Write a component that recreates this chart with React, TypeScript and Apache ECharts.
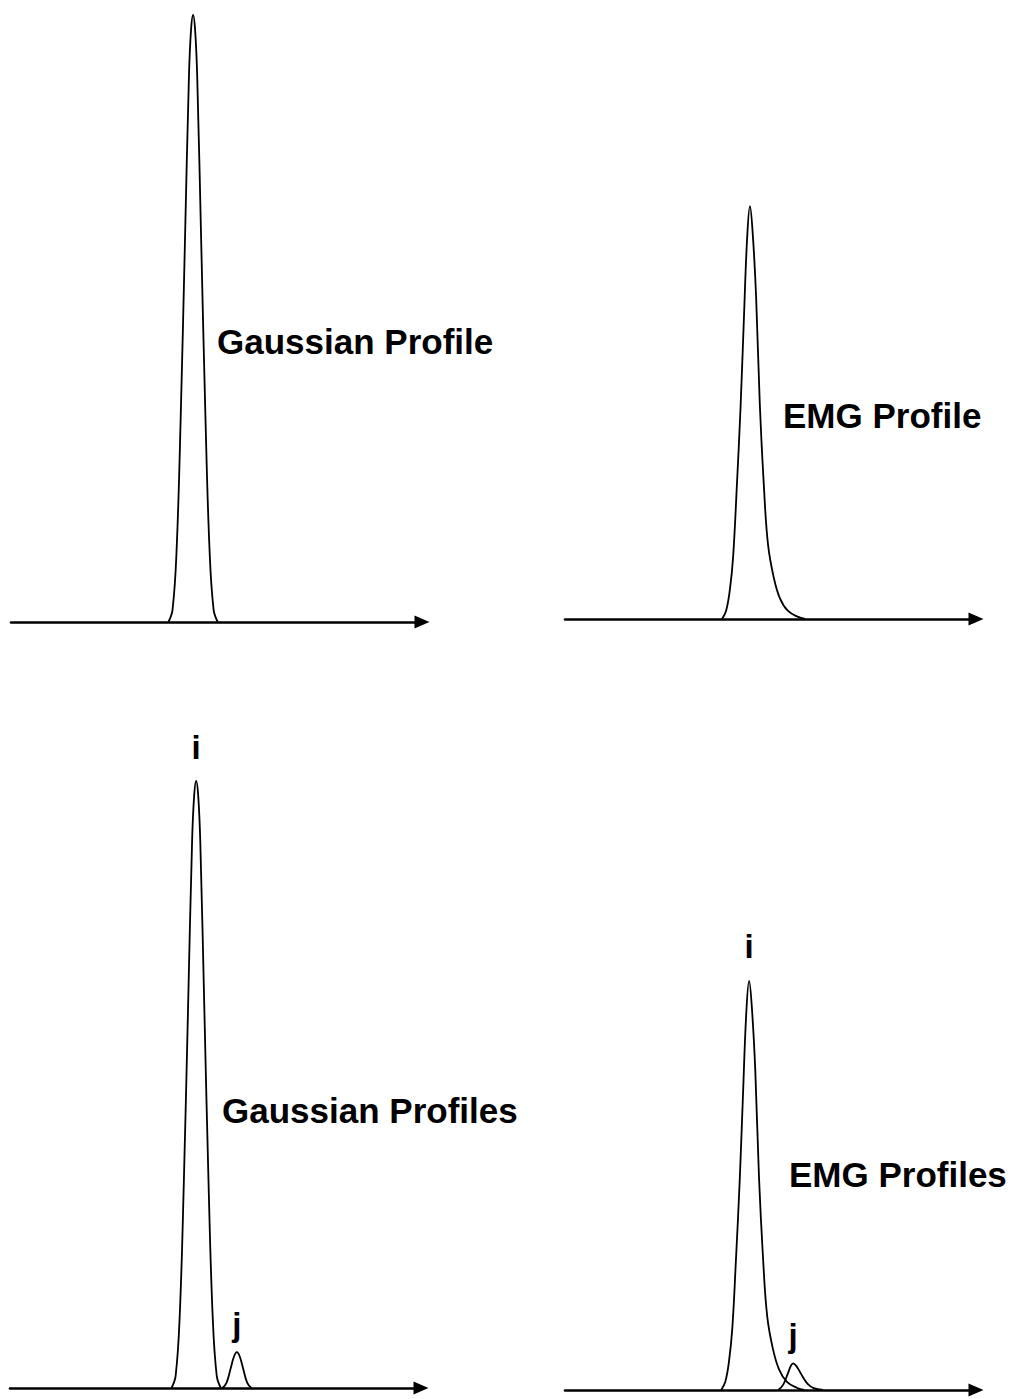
import React, { useEffect, useRef } from "react";
import * as echarts from "echarts";

// Peak shape templates: offset from peak centre (x units) and relative height
const GAUSS_OFFSETS = [-6, -5, -4, -3, -2, -1, -0.5, 0, 0.5, 1, 2, 3, 4, 5, 6];
const GAUSS_HEIGHTS = [0, 0.02, 0.12, 0.34, 0.62, 0.9, 0.975, 1, 0.975, 0.9, 0.62, 0.34, 0.12, 0.02, 0];

const SMALL_GAUSS_OFFSETS = [-3.5, -2.5, -1.5, -0.7, 0, 0.7, 1.5, 2.5, 3.5];
const SMALL_GAUSS_HEIGHTS = [0, 0.15, 0.55, 0.88, 1, 0.88, 0.55, 0.15, 0];

const EMG_OFFSETS = [-6.8, -5.8, -4.9, -4.1, -3.2, -2.3, -1.5, -0.7, 0, 0.7, 1.5, 2.4, 3.4, 4.4, 5.8, 7.3, 9.2, 11.7, 13.4];
const EMG_HEIGHTS = [0, 0.02, 0.07, 0.15, 0.32, 0.51, 0.72, 0.92, 1, 0.93, 0.78, 0.52, 0.32, 0.18, 0.1, 0.05, 0.02, 0.005, 0];

const SMALL_EMG_OFFSETS = [-3.6, -2.4, -1.2, -0.5, 0, 0.6, 1.2, 2.4, 3.6, 5, 7.3];
const SMALL_EMG_HEIGHTS = [0, 0.2, 0.65, 0.92, 1, 0.93, 0.8, 0.48, 0.22, 0.07, 0];

// Peaks per panel: centre (x units, 0-100 axis), height (intensity, 0-100), label
const PANEL_TITLES = ["Gaussian Profile", "EMG Profile", "Gaussian Profiles", "EMG Profiles"];
const PANEL1_PEAKS = [{ shape: "gauss", center: 44.3, height: 100, label: "" }];
const PANEL2_PEAKS = [{ shape: "emg", center: 45.0, height: 68, label: "" }];
const PANEL3_PEAKS = [
  { shape: "gauss", center: 45.3, height: 100, label: "i" },
  { shape: "smallGauss", center: 55.2, height: 5.9, label: "j" },
];
const PANEL4_PEAKS = [
  { shape: "emg", center: 44.8, height: 67.4, label: "i" },
  { shape: "smallEmg", center: 55.5, height: 4.4, label: "j" },
];

const SHAPES: Record<string, { off: number[]; h: number[] }> = {
  gauss: { off: GAUSS_OFFSETS, h: GAUSS_HEIGHTS },
  smallGauss: { off: SMALL_GAUSS_OFFSETS, h: SMALL_GAUSS_HEIGHTS },
  emg: { off: EMG_OFFSETS, h: EMG_HEIGHTS },
  smallEmg: { off: SMALL_EMG_OFFSETS, h: SMALL_EMG_HEIGHTS },
};

const FONT = "'Liberation Sans', Arial, Helvetica, sans-serif";

export default function App() {
  const ref = useRef<HTMLDivElement>(null);
  useEffect(() => {
    if (!ref.current) return;
    const chart = echarts.init(ref.current, undefined, { renderer: "svg" });
    const grids = [
      { left: 11, right: 604, top: 15, height: 607 },
      { left: 565, right: 50, top: 12, height: 607 },
      { left: 10, right: 605, top: 781, height: 607 },
      { left: 565, right: 50, top: 783, height: 607 },
    ];
    const panels = [PANEL1_PEAKS, PANEL2_PEAKS, PANEL3_PEAKS, PANEL4_PEAKS];
    const xAxis = grids.map((_, i) => ({
      type: "value",
      gridIndex: i,
      min: 0,
      max: 100,
      axisLine: {
        show: true,
        onZero: false,
        symbol: ["none", "triangle"],
        symbolSize: [13, 15],
        lineStyle: { color: "#000", width: 2.6 },
      },
      axisTick: { show: false },
      axisLabel: { show: false },
      splitLine: { show: false },
    }));
    const yAxis = grids.map((_, i) => ({
      type: "value",
      gridIndex: i,
      min: 0,
      max: 100,
      show: false,
    }));
    const series: any[] = [];
    panels.forEach((peaks, pi) => {
      peaks.forEach((p) => {
        const s = SHAPES[p.shape];
        series.push({
          type: "line",
          xAxisIndex: pi,
          yAxisIndex: pi,
          data: s.off.map((o, k) => [p.center + o, p.height * s.h[k]]),
          smooth: 0.4,
          showSymbol: false,
          lineStyle: { color: "#000", width: 1.8 },
          silent: true,
          z: 3,
        });
      });
    });
    const titlePos = [
      [217, 341],
      [783, 415],
      [222, 1110],
      [789, 1174],
    ];
    const titles: any[] = PANEL_TITLES.map((t, i) => ({
      type: "text",
      x: titlePos[i][0],
      y: titlePos[i][1],
      style: {
        text: t,
        fill: "#000",
        font: `bold 35px ${FONT}`,
        align: "left",
        verticalAlign: "middle",
      },
      silent: true,
    }));
    chart.setOption({
      animation: false,
      backgroundColor: "#fff",
      grid: grids,
      xAxis,
      yAxis,
      series,
      graphic: titles,
    });
    // peak letters placed above each labelled peak's apex, located through the axes
    const letters: any[] = [];
    panels.forEach((peaks, pi) => {
      peaks.forEach((p) => {
        if (!p.label) return;
        const pt = chart.convertToPixel({ gridIndex: pi }, [p.center, p.height]) as number[];
        letters.push({
          type: "text",
          x: pt[0],
          y: pt[1] - (p.label === "i" ? 34 : 28),
          style: {
            text: p.label,
            fill: "#000",
            font: `bold 33px ${FONT}`,
            align: "center",
            verticalAlign: "middle",
          },
          silent: true,
        });
      });
    });
    chart.setOption({ graphic: [...titles, ...letters] });
    return () => chart.dispose();
  }, []);
  return (
    <div
      ref={ref}
      style={{ position: "fixed", left: 0, top: 0, width: 1026, height: 1399 }}
    />
  );
}
